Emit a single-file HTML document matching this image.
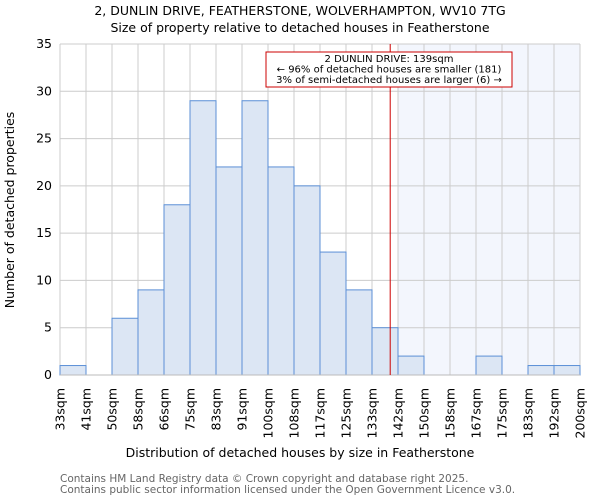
<!DOCTYPE html>
<html><head><meta charset="utf-8"><style>body{margin:0;background:#fff}svg{display:block;font-family:"DejaVu Sans","Liberation Sans",sans-serif}</style></head>
<body>
<svg id="c" width="600" height="500">
<text x="300" y="15" text-anchor="middle" font-size="12.5">2, DUNLIN DRIVE, FEATHERSTONE, WOLVERHAMPTON, WV10 7TG</text>
<text x="300" y="32" text-anchor="middle" font-size="12.5">Size of property relative to detached houses in Featherstone</text>
<g id="plot"></g>
<text x="300" y="457" text-anchor="middle" font-size="12.5">Distribution of detached houses by size in Featherstone</text>
<text transform="translate(14,210) rotate(-90)" text-anchor="middle" font-size="12.5">Number of detached properties</text>
<text x="60" y="482" font-size="10.5" fill="#666">Contains HM Land Registry data © Crown copyright and database right 2025.</text>
<text x="60" y="493" font-size="10.5" fill="#666">Contains public sector information licensed under the Open Government Licence v3.0.</text>
</svg>
<script>
const binLabels=["33sqm","41sqm","50sqm","58sqm","66sqm","75sqm","83sqm","91sqm","100sqm","108sqm","117sqm","125sqm","133sqm","142sqm","150sqm","158sqm","167sqm","175sqm","183sqm","192sqm","200sqm"];
const counts=[1,0,6,9,18,29,22,29,22,20,13,9,5,2,0,0,2,0,1,1];
const yTicks=[0,5,10,15,20,25,30,35];
const propertyBinPos=12.7;
const x0=60,x1=580,y0=375,y1=44,yMax=35;
const bw=(x1-x0)/counts.length;
const X=i=>x0+i*bw, Y=v=>y0-(y0-y1)*v/yMax;
const NS="http://www.w3.org/2000/svg",g=document.getElementById('plot');
function el(t,a,p){const e=document.createElementNS(NS,t);for(const k in a)e.setAttribute(k,a[k]);(p||g).appendChild(e);return e;}
let s=el('rect',{x:X(Math.ceil(propertyBinPos)),y:y1,width:x1-X(Math.ceil(propertyBinPos)),height:y0-y1,fill:'#f3f6fd'});


for(let i=0;i<=counts.length;i++){let l=el('line',{x1:X(i),x2:X(i),y1:y1,y2:y0,stroke:'#ccc'});

}
yTicks.forEach(v=>{let l=el('line',{x1:x0,x2:x1,y1:Y(v),y2:Y(v),stroke:'#ccc'});


let t=el('text',{x:x0-8,y:Y(v)+4,'text-anchor':'end','font-size':12.5});t.textContent=v;

});
counts.forEach((c,i)=>{if(!c)return;let r=el('rect',{x:X(i),y:Y(c),width:bw,height:Y(0)-Y(c),fill:'#dce6f4',stroke:'#5b8fd6','stroke-width':1});

});
el('line',{x1:x0,x2:x1,y1:y0,y2:y0,stroke:'#bbb'});
binLabels.forEach((b,i)=>{let t=el('text',{transform:`translate(${X(i)+4.5},388) rotate(-90)`,'text-anchor':'end','font-size':12.5});t.textContent=b;

});
const px=X(propertyBinPos);
let rl=el('line',{x1:px,x2:px,y1:y1,y2:y0,stroke:'#cc0000','stroke-width':1});


let ab=el('rect',{x:266,y:52,width:246,height:35,fill:'#fff',stroke:'#cc0000'});


["2 DUNLIN DRIVE: 139sqm","← 96% of detached houses are smaller (181)","3% of semi-detached houses are larger (6) →"].forEach((s,k)=>{let t=el('text',{x:389,y:62+k*10.5,'text-anchor':'middle','font-size':10});t.textContent=s;

});
</script>
</body></html>
